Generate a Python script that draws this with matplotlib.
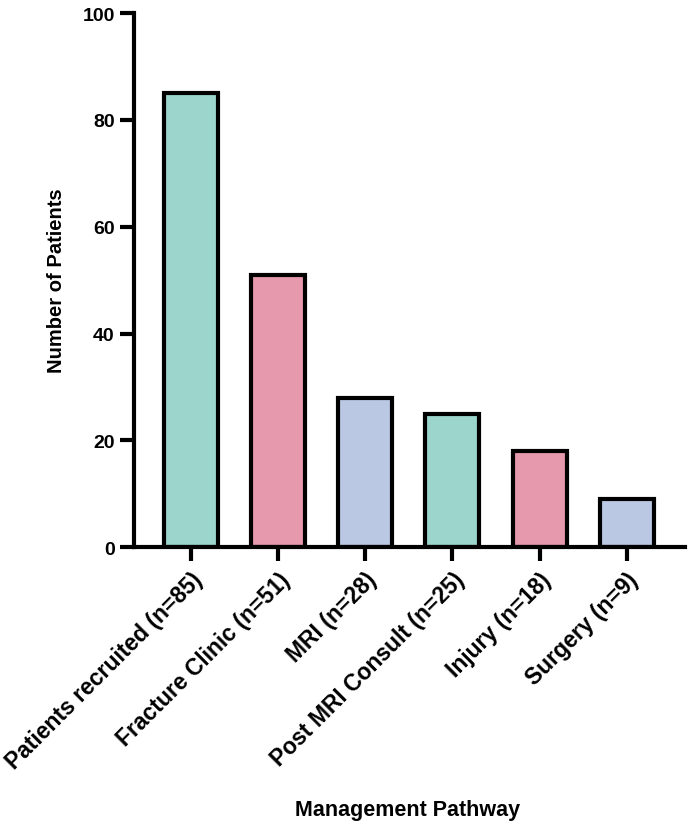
import numpy as np
import matplotlib.pyplot as plt

plt.rcParams['font.family'] = ['Liberation Sans', 'DejaVu Sans']
plt.rcParams['font.weight'] = 'bold'

categories = ['Patients recruited (n=85)', 'Fracture Clinic (n=51)', 'MRI (n=28)',
              'Post MRI Consult (n=25)', 'Injury (n=18)', 'Surgery (n=9)']
patients = [85, 51, 28, 25, 18, 9]
colors = ['#9cd5cc', '#e698ad', '#bbc8e3', '#9cd5cc', '#e698ad', '#bbc8e3']

fig = plt.figure(figsize=(6.88, 8.28), dpi=100)
ax = fig.add_axes([0.195, 0.338, 0.801, 0.645])

x = np.arange(len(categories))
ax.bar(x, patients, width=0.62, color=colors, edgecolor='black', linewidth=3)

ax.set_xlim(-0.65, 5.67)
ax.set_ylim(0, 100)
ax.set_yticks([0, 20, 40, 60, 80, 100])
ax.set_xticks(x)
ax.set_xticklabels(categories, rotation=45, ha='right', rotation_mode='anchor')

for s in ['top', 'right']:
    ax.spines[s].set_visible(False)
for s in ['left', 'bottom']:
    ax.spines[s].set_linewidth(3)

ax.tick_params(axis='y', width=3, length=10, labelsize=14, pad=4)
ax.tick_params(axis='x', width=3, length=10, labelsize=16.5, pad=5)
for lab in ax.get_xticklabels() + ax.get_yticklabels():
    lab.set_fontweight('bold')

ax.set_ylabel('Number of Patients', fontsize=14.5, fontweight='bold', labelpad=12)
fig.text(0.593, 0.0145, 'Management Pathway', ha='center', va='baseline',
         fontsize=15.5, fontweight='bold')

fig.savefig('out.png', dpi=100)
